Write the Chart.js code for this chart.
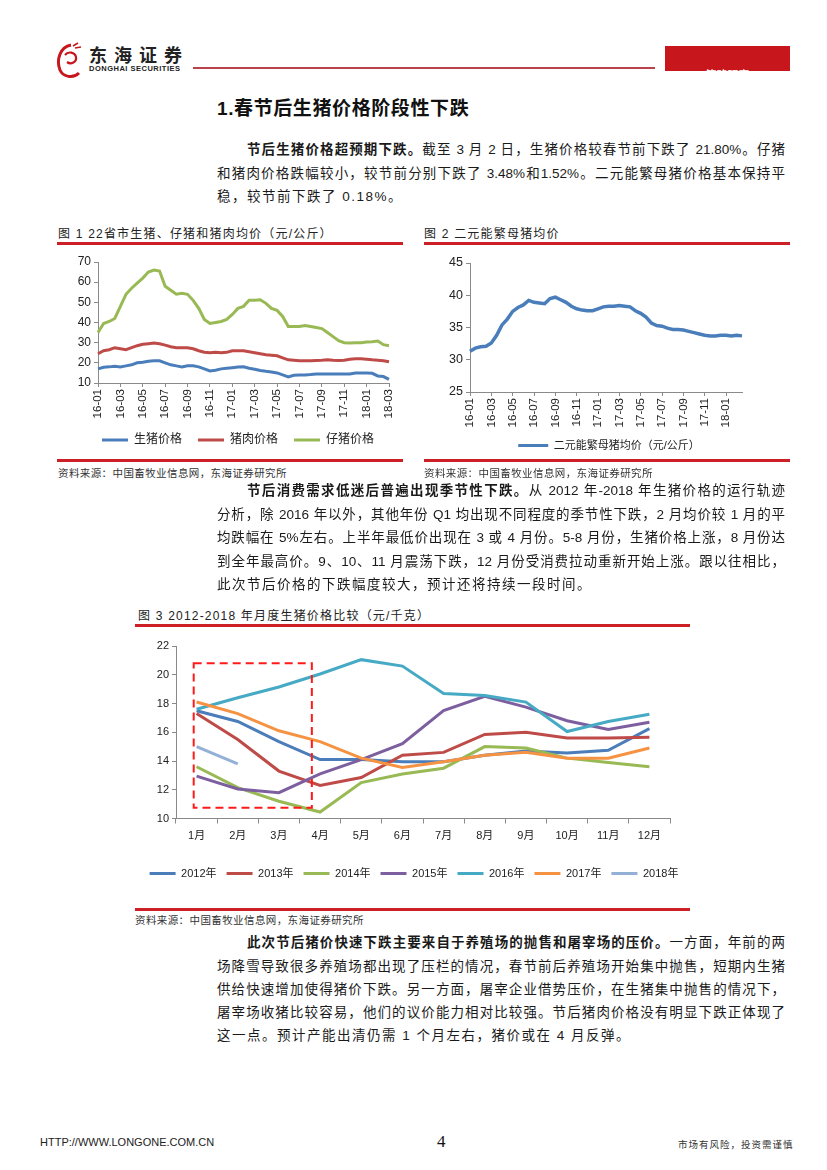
<!DOCTYPE html>
<html>
<head>
<meta charset="utf-8">
<script src="https://cdn.jsdelivr.net/npm/chart.js@4.4.1/dist/chart.umd.min.js"></script>
<style>
  body { margin: 0; background: #fff; }
  .page { position: relative; width: 827px; height: 1170px; overflow: hidden; font-family: "Liberation Sans", "Noto Sans CJK SC", sans-serif; color: #1a1a1a; }
  .abs { position: absolute; }
  .ln { position: absolute; height: 20px; line-height: 20px; font-size: 13.5px; }
  .j { text-align: justify; text-align-last: justify; }
  .cap { font-size: 12px; letter-spacing: 1.2px; color: #222; }
  .src { font-size: 10.5px; letter-spacing: 0.4px; color: #333; }
  .rule { position: absolute; height: 3px; background: #cc1f26; }
  canvas { position: absolute; }
</style>
</head>
<body>
<div class="page">
  <!-- header -->
  <svg class="abs" style="left:54px;top:42px" width="30" height="38" viewBox="0 0 30 38">
    <path d="M17 3 C6 5 2 18 6 28 C9 35 19 37 25 31" stroke="#c8161d" stroke-width="3" fill="none"/>
    <path d="M11 13 C14 9 21 10 22 15 C23 20 17 23 13 20" stroke="#c8161d" stroke-width="2.2" fill="none"/>
    <path d="M19 4 L24 1 M21 6 L27 5" stroke="#c8161d" stroke-width="1.6"/>
  </svg>
  <div class="abs" style="left:89px;top:45px;font-size:18px;line-height:18px;font-weight:700;letter-spacing:7px;color:#222;font-family:'Noto Sans CJK SC'">东海证券</div>
  <div class="abs" style="left:89px;top:65px;font-size:7.5px;line-height:8px;font-weight:700;letter-spacing:0.5px;color:#222">DONGHAI SECURITIES</div>
  <div class="abs" style="left:193px;top:67px;width:462px;height:1.5px;background:#b8434c"></div>
  <div class="abs" style="left:665px;top:46px;width:125px;height:25px;background:#c8161d;overflow:hidden">
    <div class="abs" style="left:0;top:20px;width:125px;text-align:center;color:#fff;font-size:11px;font-family:'Noto Sans CJK SC'">策略研究</div>
  </div>

  <div class="abs" style="left:217px;top:93px;font-size:19px;font-weight:700;letter-spacing:0.6px;color:#111">1.春节后生猪价格阶段性下跌</div>

  <div class="ln j" style="left:247px;top:140px;width:538px"><b>节后生猪价格超预期下跌。</b>截至 3 月 2 日，生猪价格较春节前下跌了 21.80%。仔猪</div>
  <div class="ln j" style="left:217px;top:164px;width:568px">和猪肉价格跌幅较小，较节前分别下跌了 3.48%和1.52%。二元能繁母猪价格基本保持平</div>
  <div class="ln" style="left:217px;top:187px;letter-spacing:1.5px">稳，较节前下跌了 0.18%。</div>

  <div class="abs cap" style="left:58px;top:224px">图 1 22省市生猪、仔猪和猪肉均价（元/公斤）</div>
  <div class="abs cap" style="left:424px;top:224px">图 2 二元能繁母猪均价</div>
  <div class="rule" style="left:57px;top:242px;width:346px"></div>
  <div class="rule" style="left:424px;top:242px;width:366px"></div>

  <canvas id="c1" width="362" height="206" style="left:57px;top:250px"></canvas>
  <canvas id="c2" width="370" height="211" style="left:424px;top:250px"></canvas>

  <div class="rule" style="left:57px;top:459px;width:346px"></div>
  <div class="rule" style="left:424px;top:459px;width:366px"></div>
  <div class="abs src" style="left:58px;top:465px">资料来源：中国畜牧业信息网，东海证券研究所</div>
  <div class="abs src" style="left:424px;top:465px">资料来源：中国畜牧业信息网，东海证券研究所</div>

  <div class="ln j" style="left:247px;top:481px;width:538px"><b>节后消费需求低迷后普遍出现季节性下跌。</b>从 2012 年-2018 年生猪价格的运行轨迹</div>
  <div class="ln j" style="left:217px;top:505px;width:568px">分析，除 2016 年以外，其他年份 Q1 均出现不同程度的季节性下跌，2 月均价较 1 月的平</div>
  <div class="ln j" style="left:217px;top:528px;width:568px">均跌幅在 5%左右。上半年最低价出现在 3 或 4 月份。5-8 月份，生猪价格上涨，8 月份达</div>
  <div class="ln j" style="left:217px;top:552px;width:568px">到全年最高价。9、10、11 月震荡下跌，12 月份受消费拉动重新开始上涨。跟以往相比，</div>
  <div class="ln" style="left:217px;top:575px;letter-spacing:1.5px">此次节后价格的下跌幅度较大，预计还将持续一段时间。</div>

  <div class="abs cap" style="left:138px;top:606px">图 3 2012-2018 年月度生猪价格比较（元/千克）</div>
  <div class="rule" style="left:135px;top:624px;width:555px"></div>

  <canvas id="c3" width="560" height="254" style="left:134px;top:635px"></canvas>

  <div class="rule" style="left:135px;top:908px;width:555px"></div>
  <div class="abs src" style="left:135px;top:912px">资料来源：中国畜牧业信息网，东海证券研究所</div>

  <div class="ln j" style="left:247px;top:933px;width:538px"><b>此次节后猪价快速下跌主要来自于养殖场的抛售和屠宰场的压价。</b>一方面，年前的两</div>
  <div class="ln j" style="left:217px;top:957px;width:568px">场降雪导致很多养殖场都出现了压栏的情况，春节前后养殖场开始集中抛售，短期内生猪</div>
  <div class="ln j" style="left:217px;top:980px;width:568px">供给快速增加使得猪价下跌。另一方面，屠宰企业借势压价，在生猪集中抛售的情况下，</div>
  <div class="ln j" style="left:217px;top:1003px;width:568px">屠宰场收猪比较容易，他们的议价能力相对比较强。节后猪肉价格没有明显下跌正体现了</div>
  <div class="ln" style="left:217px;top:1026px;letter-spacing:1.5px">这一点。预计产能出清仍需 1 个月左右，猪价或在 4 月反弹。</div>

  <!-- footer -->
  <div class="abs" style="left:40px;top:1136px;font-size:11px;font-family:'Liberation Sans Narrow','Liberation Sans';color:#222">HTTP://WWW.LONGONE.COM.CN</div>
  <div class="abs" style="left:437px;top:1132px;font-size:17px;font-family:'Liberation Serif';color:#111">4</div>
  <div class="abs" style="left:678px;top:1137px;font-size:9.5px;letter-spacing:1px;color:#333;font-family:'Noto Sans CJK SC'">市场有风险，投资需谨慎</div>
</div>

<script>
// fig 1: semi-monthly points, 16-01 .. 18-03
const months1 = ['16-01','16-02','16-03','16-04','16-05','16-06','16-07','16-08','16-09','16-10','16-11','16-12',
  '17-01','17-02','17-03','17-04','17-05','17-06','17-07','17-08','17-09','17-10','17-11','17-12','18-01','18-02','18-03']
const hogPrice = [17,17.8,18,18.3,18,18.5,19,20,20.3,20.8,21,21,20,19,18.5,18,18.5,18.5,18,17,16,16.3,17,17.3,17.6,17.9,
  18,17.3,16.8,16.2,15.8,15.5,15,14,13,13.8,14,14,14.2,14.5,14.5,14.5,14.5,14.5,14.5,14.5,15,15,15,14.8,13.5,13.2,11.8]
const porkPrice = [24.5,26,26.5,27.5,27,26.5,27.5,28.5,29.2,29.5,29.8,29.5,28.8,28,27.5,27.5,27.5,27,26,25.3,
  25,25.2,25,25.2,26,26,26,25.5,25,24.5,24,23.8,23.5,22.5,21.5,21.3,21,21,21,21.2,21.3,21.5,21.3,21.2,21.3,21.8,22,22,21.8,21.5,21.3,21,20.5]
const pigletPrice = [35,39.5,40.5,42,48,54,57,59.5,62,65,66,65.5,58,56,54,54.5,54,51,47,41.5,
  39.5,40,40.5,41.5,44,47,48,51,51,51.3,49.5,47,46,43,38,38,38,38.5,38,37.5,37,35,33,31,30,29.8,30,30,30.3,30.5,30.8,29,28.5]

// fig 2: semi-monthly points, 16-01 .. 18-02
const months2 = months1.slice(0, 26)
const sowPrice = [31.3,31.8,32,32.1,32.6,33.8,35.4,36.3,37.5,38.1,38.5,39.2,38.9,38.8,38.7,39.5,39.7,39.3,38.9,38.3,
  37.9,37.7,37.6,37.6,37.9,38.2,38.3,38.3,38.4,38.3,38.2,37.6,37.2,36.6,35.7,35.3,35.2,34.9,34.7,34.7,
  34.6,34.4,34.2,34.0,33.8,33.7,33.7,33.8,33.8,33.7,33.8,33.7]

// fig 3: monthly average price by year
const monthNames = ['1月','2月','3月','4月','5月','6月','7月','8月','9月','10月','11月','12月']
const yearNames = ['2012年','2013年','2014年','2015年','2016年','2017年','2018年']
const y2012 = [17.5,16.75,15.35,14.1,14.1,13.95,13.95,14.4,14.7,14.55,14.75,16.25]
const y2013 = [17.3,15.5,13.3,12.3,12.85,14.4,14.6,15.85,16.0,15.6,15.6,15.65]
const y2014 = [13.6,12.15,11.2,10.45,12.5,13.1,13.5,15.0,14.9,14.2,13.9,13.6]
const y2015 = [12.95,12.05,11.8,13.1,14.1,15.2,17.5,18.5,17.75,16.8,16.2,16.7]
const y2016 = [17.6,18.4,19.15,20.05,21.05,20.6,18.7,18.55,18.1,16.05,16.75,17.25]
const y2017 = [18.1,17.3,16.1,15.35,14.2,13.55,13.95,14.4,14.6,14.2,14.2,14.9]
const y2018 = [15.0,13.8]
// dashed Q1 box, in category index / price units
const q1Box = { x0: -0.07, x1: 2.8, y0: 10.75, y1: 20.8 }

Chart.defaults.font.family = '"Liberation Sans", "Noto Sans CJK SC", sans-serif'
Chart.defaults.color = '#222'
Chart.defaults.animation = false

const axisGray = '#8a8a8a'
const halfMonths = (m) => m.flatMap(v => [v, ''])

const lineLegend = (boxWidth, size, padding) => ({
  position: 'bottom',
  labels: {
    boxWidth: boxWidth,
    boxHeight: 3,
    padding: padding,
    font: { size: size },
    color: '#222',
    sort: (a, b) => a.datasetIndex - b.datasetIndex,
    generateLabels: (chart) =>
      Chart.defaults.plugins.legend.labels.generateLabels(chart).map(l => Object.assign(l, { fillStyle: l.strokeStyle, lineWidth: 0 })),
  },
})

const yAxis = (min, max, step, w, size) => ({
  min: min, max: max,
  ticks: { stepSize: step, font: { size: size }, padding: 3 },
  grid: { drawOnChartArea: false, tickLength: 4, color: axisGray },
  border: { color: axisGray },
  afterFit: (s) => { s.width = w },
})

// invisible right axis, only reserves room so the legend lines up
const spacer = (w) => ({
  position: 'right',
  display: true,
  ticks: { display: false },
  grid: { display: false },
  border: { display: false },
  afterFit: (s) => { s.width = w },
})

const dateAxis = (h) => ({
  ticks: {
    autoSkip: false, minRotation: 90, maxRotation: 90, padding: 2, font: { size: 11.5 },
    callback: function (v, i) { return i % 4 === 0 ? this.getLabelForValue(v) : null },
  },
  grid: { drawOnChartArea: false, tickLength: 4, color: axisGray },
  border: { color: axisGray },
  afterFit: (s) => { s.height = h },
})

new Chart(document.getElementById('c1'), {
  type: 'line',
  data: {
    labels: halfMonths(months1).slice(0, hogPrice.length),
    datasets: [
      { label: '生猪价格', data: hogPrice, borderColor: '#4a7ebb' },
      { label: '猪肉价格', data: porkPrice, borderColor: '#be4b48' },
      { label: '仔猪价格', data: pigletPrice, borderColor: '#98b954' },
    ],
  },
  options: {
    responsive: false,
    devicePixelRatio: 1,
    elements: { point: { radius: 0 }, line: { borderWidth: 3, tension: 0 } },
    layout: { padding: { top: 12, right: 0, left: 0, bottom: 0 } },
    plugins: { legend: lineLegend(26, 12, 16), tooltip: { enabled: false } },
    scales: { x: dateAxis(35), y: yAxis(10, 70, 10, 41, 12), yR: spacer(30) },
  },
})

new Chart(document.getElementById('c2'), {
  type: 'line',
  data: {
    labels: halfMonths(months2).slice(0, sowPrice.length),
    datasets: [{ label: '二元能繁母猪均价（元/公斤）', data: sowPrice, borderColor: '#4a7ebb', borderWidth: 3.5 }],
  },
  options: {
    responsive: false,
    devicePixelRatio: 1,
    elements: { point: { radius: 0 }, line: { borderWidth: 3, tension: 0 } },
    layout: { padding: { top: 13, right: 0, left: 0, bottom: 0 } },
    plugins: { legend: lineLegend(30, 11, 10), tooltip: { enabled: false } },
    scales: { x: dateAxis(38), y: yAxis(25, 45, 5, 46, 12.5), yR: spacer(52) },
  },
})

const q1BoxPlugin = {
  id: 'q1Box',
  afterDatasetsDraw(chart) {
    const { ctx, scales: { x, y } } = chart
    const l = x.getPixelForValue(q1Box.x0), r = x.getPixelForValue(q1Box.x1)
    const t = y.getPixelForValue(q1Box.y1), b = y.getPixelForValue(q1Box.y0)
    ctx.save()
    ctx.strokeStyle = '#ff1a1a'
    ctx.lineWidth = 2
    ctx.setLineDash([8, 5])
    ctx.strokeRect(l, t, r - l, b - t)
    ctx.restore()
  },
}

const yearSeries = [y2012, y2013, y2014, y2015, y2016, y2017, y2018]
const yearColors = ['#4a7dba', '#be4b48', '#98b954', '#7d5fa0', '#46aac5', '#f59343', '#93b1d6']

new Chart(document.getElementById('c3'), {
  type: 'line',
  data: {
    labels: monthNames,
    datasets: yearSeries.map((d, i) => ({
      label: yearNames[i], data: d, borderColor: yearColors[i], order: yearSeries.length - i,
    })),
  },
  options: {
    responsive: false,
    devicePixelRatio: 1,
    elements: { point: { radius: 0 }, line: { borderWidth: 3, tension: 0 } },
    layout: { padding: { top: 11, right: 0, left: 0, bottom: 0 } },
    plugins: { legend: lineLegend(26, 11, 10), tooltip: { enabled: false } },
    scales: {
      x: {
        offset: true,
        ticks: { font: { size: 11 }, padding: 6 },
        grid: { offset: true, drawOnChartArea: false, tickLength: 5, color: axisGray },
        border: { color: axisGray },
        afterFit: (s) => { s.height = 39.5 },
      },
      y: yAxis(10, 22, 2, 42, 11),
      yR: spacer(24),
    },
  },
  plugins: [q1BoxPlugin],
})
</script>
</body>
</html>
